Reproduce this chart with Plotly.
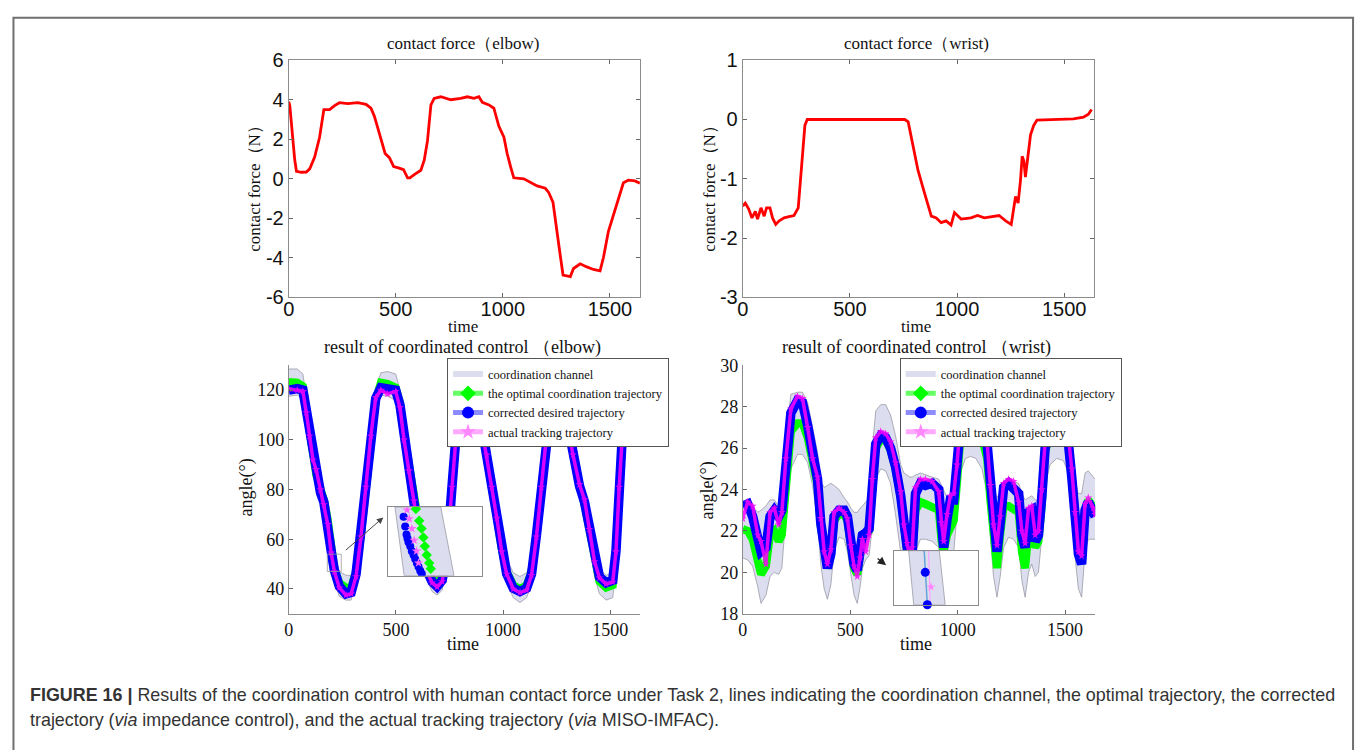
import plotly.graph_objects as go

W, H = 1362, 750


def px(x):
    return x / W


def py(y):
    return 1 - y / H


SERIF = "Liberation Serif, Times New Roman, serif"
SANS = "Liberation Sans, Arial, sans-serif"

# ---------------- contact force (elbow) ----------------
t_force_elbow = [0, 5, 28, 36, 59, 82, 98, 121, 144, 164, 191, 214, 237, 276, 322, 361, 384, 400,
                 415, 431, 450, 470, 490, 516, 536, 555, 566, 586, 617, 633, 648, 664, 679, 710,
                 757, 803, 834, 865, 888, 904, 935, 958, 981, 1005, 1020, 1036, 1051, 1098, 1129,
                 1160, 1198, 1214, 1234, 1250, 1265, 1281, 1315, 1330, 1361, 1392, 1423, 1454,
                 1470, 1493, 1516, 1540, 1563, 1586, 1617, 1640]
force_elbow = [3.9, 3.7, 0.95, 0.38, 0.33, 0.34, 0.5, 1.1, 2.1, 3.5, 3.5, 3.7, 3.85, 3.8, 3.85,
               3.77, 3.57, 3.16, 2.6, 2.0, 1.28, 1.07, 0.62, 0.54, 0.46, 0.05, 0.05, 0.21, 0.43,
               0.95, 1.93, 3.74, 4.07, 4.15, 4.0, 4.07, 4.15, 4.07, 4.15, 3.87, 3.74, 3.57, 2.67,
               2.1, 1.28, 0.62, 0.05, 0.0, -0.2, -0.36, -0.48, -0.69, -1.18, -2.33, -3.64, -4.87,
               -4.95, -4.54, -4.3, -4.46, -4.59, -4.66, -3.97, -2.66, -1.84, -1.1, -0.2, -0.07,
               -0.11, -0.23]

# ---------------- contact force (wrist) ----------------
t_force_wrist = [0, 12, 28, 43, 59, 69, 85, 100, 111, 127, 139, 154, 170, 193, 216, 239, 259, 270,
                 282, 290, 301, 756, 772, 795, 818, 849, 880, 903, 926, 949, 972, 988, 1019, 1065,
                 1096, 1127, 1157, 1196, 1227, 1253, 1265, 1273, 1285, 1296, 1304, 1312, 1319,
                 1330, 1343, 1358, 1373, 1543, 1590, 1613, 1628]
force_wrist = [-1.46, -1.41, -1.51, -1.66, -1.55, -1.68, -1.49, -1.63, -1.49, -1.49, -1.66, -1.77,
               -1.71, -1.66, -1.64, -1.62, -1.49, -1.03, -0.54, -0.1, 0, 0, -0.04, -0.48, -0.86,
               -1.25, -1.63, -1.66, -1.74, -1.71, -1.78, -1.57, -1.68, -1.66, -1.62, -1.66, -1.64,
               -1.62, -1.71, -1.77, -1.49, -1.30, -1.41, -1.03, -0.62, -0.7, -0.97, -0.59, -0.26,
               -0.1, -0.01, 0.01, 0.04, 0.09, 0.17]

# ---------------- coordinated control (elbow) ----------------
t_elbow = [0, 40, 66, 82, 97, 113, 128, 148, 164, 182, 198, 213, 236, 267, 291, 314, 337, 360,
           383, 406, 430, 461, 499, 519, 538, 561, 584, 607, 638, 669, 692, 716, 739, 762, 785,
           810, 840, 870, 901, 924, 947, 971, 994, 1017, 1048, 1079, 1110, 1133, 1156, 1179, 1202,
           1225, 1255, 1280, 1303, 1326, 1357, 1380, 1403, 1427, 1450, 1481, 1512, 1527, 1542,
           1558, 1575, 1600]
channel_upper_elbow = [128.5, 128.5, 126.5, 117, 108, 99, 91, 85, 81, 73, 61, 53, 47, 45.5, 45.5,
                       52, 67, 86, 105, 121, 127, 127.5, 126.5, 120, 107, 94, 81, 68, 55, 49, 47.5,
                       49.5, 61, 86, 111, 123, 126, 126, 111, 100, 87, 74, 61, 52, 46.5, 45, 46.5,
                       52, 67, 86, 106, 120, 126, 123, 111, 100, 87, 79, 68, 55, 48, 45.5, 46.5,
                       60, 86, 108.7, 123, 126]
channel_lower_elbow = [117.5, 118, 116.5, 107, 98, 89, 81, 75, 71, 63, 51, 43, 37, 35.5, 35.5, 42,
                       57, 76, 95, 111, 118, 117.5, 116, 110, 97, 84, 71, 58, 45, 39, 37.5, 39.5,
                       51, 76, 101, 113, 116, 116, 101, 90, 77, 64, 51, 42, 36.5, 34.5, 36.5, 42,
                       57, 76, 96, 110, 116, 113, 101, 90, 77, 69, 58, 45, 38, 35.5, 36.5, 50, 76,
                       98.7, 113, 116]
optimal_elbow = [123.3, 123, 121.5, 112, 103, 94, 86, 80, 76, 68, 56, 48, 42.5, 40.5, 40.5, 47, 62,
                 81, 100, 116, 123, 122.5, 121, 115, 102, 89, 76, 63, 50, 44, 42.5, 44.5, 56, 81,
                 106, 118, 121, 121, 106, 95, 82, 69, 56, 47, 41.5, 40, 41.5, 47, 62, 81, 101, 115,
                 121, 118, 106, 95, 82, 74, 63, 50, 43, 40.5, 41.5, 55, 81, 103.7, 118, 121]
corrected_elbow = [120, 120.6, 120, 111.5, 102.4, 93.2, 85.4, 78.8, 74.9, 67, 55.3, 47.5, 41, 38,
                   38.6, 46, 61.8, 81.4, 101, 116.7, 121, 120.6, 120, 114, 101, 88, 75, 61.8, 48.8,
                   42.9, 41, 43.5, 55.3, 81.4, 106.3, 118, 121, 121, 105.6, 94.5, 81.4, 68.4, 55.3,
                   46.1, 40.3, 39, 40.3, 46, 61.8, 81.4, 101, 115, 121, 118, 105.6, 94.5, 81.4, 75,
                   64.4, 51.4, 44.8, 42.5, 43.5, 55.3, 81.4, 103.7, 118, 121]
actual_elbow = [120.5, 120, 119.5, 111, 101.5, 92, 88, 80, 74, 66, 54.5, 47, 40.5, 37.5, 38, 45, 61,
                81, 101.5, 117, 120, 118.5, 119.5, 113, 100, 87.5, 75.5, 61, 48, 42.5, 40.8, 43, 55,
                81, 106, 118, 120.5, 120.5, 105, 94, 81, 68.5, 55, 46, 40, 38.5, 39.5, 45.5, 61, 81,
                101, 115, 120.5, 117.5, 105, 94, 82, 76, 64, 51, 44.5, 42, 42.8, 55, 81, 103.5,
                118, 120.5]

# ---------------- coordinated control (wrist) ----------------
t_wrist = [0, 23, 46, 70, 85, 108, 127, 147, 167, 182, 201, 224, 255, 278, 302, 325, 348, 363, 379,
           394, 410, 425, 448, 472, 487, 503, 518, 533, 546, 557, 572, 588, 603, 619, 642, 665, 688,
           711, 735, 750, 765, 778, 789, 804, 827, 850, 881, 912, 925, 935, 951, 966, 982, 997,
           1013, 1036, 1060, 1085, 1113, 1137, 1152, 1167, 1183, 1198, 1214, 1237, 1260, 1284,
           1299, 1314, 1330, 1345, 1361, 1376, 1392, 1407, 1430, 1461, 1492, 1515, 1531, 1546,
           1562, 1577, 1593, 1608, 1631, 1640]
channel_upper_wrist = [23.4, 23.5, 23.2, 22.9, 23.0, 23.2, 23.5, 23.5, 23.2, 23.6, 26.5, 28.6, 28.7,
                       28.7, 28.2, 27.0, 25.8, 24.4, 24.1, 24.2, 24.3, 24.2, 24.0, 23.6, 23.4, 23.1,
                       22.9, 22.9, 23.1, 23.2, 23.4, 23.6, 26.0, 27.8, 28.1, 28.1, 27.6, 26.6, 25.2,
                       24.8, 24.7, 24.6, 24.6, 24.7, 24.8, 24.7, 24.6, 24.5, 24.2, 23.9, 23.6, 23.5,
                       23.8, 25.8, 27.8, 28.4, 28.5, 28.5, 28.1, 27.0, 25.4, 24.0, 23.6, 23.9, 24.2,
                       24.4, 24.4, 24.3, 23.8, 23.5, 23.6, 23.7, 23.5, 23.4, 24.5, 26.8, 27.5, 27.8,
                       27.7, 27.2, 26.0, 24.4, 23.8, 23.8, 24.8, 24.9, 24.6, 24.5]
channel_lower_wrist = [20.7, 20.6, 20.3, 19.3, 18.5, 18.9, 19.8, 20.0, 19.9, 20.2, 22.8, 25.0, 25.7,
                       25.7, 25.3, 24.2, 22.5, 20.4, 19.2, 18.7, 19.4, 21.0, 21.7, 21.6, 21.0, 19.8,
                       18.9, 18.5, 19.3, 20.2, 20.6, 20.8, 22.3, 24.5, 25.0, 24.9, 24.3, 22.8, 21.0,
                       19.8, 19.0, 18.6, 19.0, 21.0, 21.6, 21.6, 21.5, 21.2, 20.0, 19.5, 20.2, 20.8,
                       21.0, 22.8, 24.8, 25.5, 25.6, 25.5, 25.0, 23.8, 21.8, 19.8, 18.8, 19.8, 21.2,
                       21.7, 21.6, 21.2, 19.6, 18.8, 20.0, 20.4, 19.8, 20.0, 21.8, 24.2, 25.2, 25.5,
                       25.4, 24.8, 22.8, 20.8, 19.2, 18.8, 21.0, 21.6, 21.6, 21.6]
optimal_wrist = [22.1, 22.0, 21.6, 20.6, 19.9, 20.3, 21.8, 22.0, 21.5, 21.8, 24.5, 26.8, 27.2, 27.2,
                 26.5, 25.3, 24.2, 22.2, 20.8, 20.2, 20.8, 22.5, 22.8, 22.8, 22.5, 21.3, 20.2, 19.9,
                 21.0, 21.6, 21.8, 22.0, 24.0, 26.0, 26.4, 26.4, 25.9, 25.0, 23.6, 22.0, 21.0, 20.4,
                 20.8, 23.0, 23.4, 23.3, 23.2, 23.0, 21.5, 21.0, 21.8, 22.2, 22.5, 24.3, 26.5, 26.8,
                 26.9, 26.9, 26.5, 25.5, 23.5, 21.5, 20.2, 21.8, 23.2, 23.2, 23.1, 22.9, 21.0, 20.2,
                 22.0, 22.2, 21.2, 21.5, 23.3, 25.8, 26.7, 27.0, 26.9, 26.2, 24.5, 22.5, 21.0, 20.5,
                 23.0, 23.5, 23.2, 23.0]
corrected_wrist = [23.2, 23.3, 22.7, 21.5, 21.0, 21.2, 22.7, 23.0, 22.7, 23.0, 25.2, 27.7, 28.3,
                   28.2, 27.1, 25.7, 24.5, 22.4, 20.9, 20.2, 20.9, 22.7, 23.0, 23.0, 22.7, 21.5,
                   20.4, 20.1, 21.2, 21.8, 21.9, 22.1, 24.1, 26.2, 26.6, 26.5, 26.0, 25.1, 23.7,
                   22.1, 21.2, 20.6, 21.0, 23.8, 24.3, 24.2, 24.3, 24.0, 22.1, 21.2, 22.6, 23.5,
                   23.5, 24.9, 27.1, 28.0, 28.5, 28.3, 27.6, 26.2, 24.1, 22.1, 21.0, 22.4, 24.1,
                   24.3, 24.1, 23.8, 21.8, 21.2, 22.9, 23.0, 21.5, 21.8, 23.7, 26.0, 26.8, 27.0,
                   26.9, 26.3, 24.6, 22.6, 20.9, 20.4, 23.0, 23.4, 22.9, 22.7]
actual_wrist = [22.6, 23.4, 23.2, 21.8, 21.5, 20.4, 22.9, 23.1, 22.3, 22.9, 25.5, 27.9, 28.5, 28.4,
                27.0, 25.5, 24.6, 22.6, 21.0, 20.4, 21.1, 22.9, 23.1, 22.9, 22.6, 21.3, 20.3, 19.8,
                20.7, 21.6, 21.0, 21.8, 24.5, 26.5, 26.8, 26.7, 26.3, 25.3, 23.9, 22.3, 21.4, 20.7,
                21.2, 24.1, 24.5, 24.5, 24.4, 23.9, 22.4, 21.5, 22.8, 23.7, 23.8, 25.2, 27.3, 28.1,
                28.5, 28.4, 27.8, 26.3, 24.2, 22.3, 21.3, 22.7, 24.3, 24.5, 24.4, 23.4, 22.0, 21.4,
                23.1, 23.2, 21.8, 22.0, 24.0, 26.3, 27.0, 27.1, 27.0, 26.6, 25.0, 22.9, 21.0, 20.8,
                23.3, 23.6, 23.1, 22.8]

# ---------------- magnified views ----------------
zoom_elbow_t = [180, 245]
zoom_elbow_a = [47, 54]
zoom_elbow_channel_t = [184.6, 216.3, 225.5, 191.0, 184.6]
zoom_elbow_channel_a = [54, 54, 47, 47, 54]
zoom_elbow_corrected_t = [190.6, 191.7, 192.6, 193.3, 194.0, 195.2, 196.3, 197.5, 198.6, 199.8,
                          200.9, 202.1, 203.2]
zoom_elbow_corrected_a = [53.0, 52.0, 51.2, 50.8, 50.4, 50.0, 49.5, 49.1, 48.7, 48.3, 47.9, 47.5,
                          47.2]
zoom_elbow_optimal_t = [199.1, 201.4, 203.0, 204.3, 205.3, 206.6, 208.3, 209.4]
zoom_elbow_optimal_a = [53.8, 52.6, 51.8, 50.9, 50.0, 49.1, 48.3, 47.7]
zoom_elbow_actual_t = [192.9, 194.5, 196.3, 197.9, 199.5, 200.9]
zoom_elbow_actual_a = [53.7, 52.8, 51.8, 50.6, 49.5, 48.3]

zoom_wrist_t = [700, 740]
zoom_wrist_a = [19.0, 21.0]
zoom_wrist_channel_t = [707.1, 721.7, 724.5, 709.5, 707.1]
zoom_wrist_channel_a = [21.0, 21.0, 19.0, 19.0, 21.0]
zoom_wrist_corrected_line_t = [714.5, 716.0]
zoom_wrist_corrected_line_a = [21.0, 19.0]
zoom_wrist_corrected_t = [715.0, 716.0]
zoom_wrist_corrected_a = [20.2, 19.0]
zoom_wrist_actual_line_t = [716.6, 717.4]
zoom_wrist_actual_line_a = [21.0, 19.0]
zoom_wrist_actual_t = [717.7]
zoom_wrist_actual_a = [19.66]

X_TICKS = [0, 500, 1000, 1500]
X_RANGE = [0, 1640]
FORCE_ELBOW_TICKS = [-6, -4, -2, 0, 2, 4, 6]
FORCE_ELBOW_LABELS = ["-6", "-4", "-2", "0", "2", "4", "6"]
FORCE_WRIST_TICKS = [-3, -2, -1, 0, 1]
FORCE_WRIST_LABELS = ["-3", "-2", "-1", "0", "1"]
ANGLE_ELBOW_TICKS = [40, 60, 80, 100, 120]
ANGLE_WRIST_TICKS = [18, 20, 22, 24, 26, 28, 30]

GREEN = "#00ff00"
BLUE = "#0000ff"
MAGENTA = "#ff00ff"
CHANNEL_FILL = "#dcdef0"
CHANNEL_LINE = "#9a9aa6"

fig = go.Figure()

# contact forces
fig.add_trace(go.Scatter(x=t_force_elbow, y=force_elbow, mode="lines",
                         line=dict(color="#ff0000", width=2.8), xaxis="x", yaxis="y",
                         showlegend=False))
fig.add_trace(go.Scatter(x=t_force_wrist, y=force_wrist, mode="lines",
                         line=dict(color="#ff0000", width=2.8), xaxis="x2", yaxis="y2",
                         showlegend=False))


def add_angle_panel(xa, ya, t, lo, up, opt, cor, act):
    fig.add_trace(go.Scatter(x=t, y=lo, mode="lines", line=dict(color=CHANNEL_LINE, width=0.8),
                             xaxis=xa, yaxis=ya, showlegend=False))
    fig.add_trace(go.Scatter(x=t, y=up, mode="lines", line=dict(color=CHANNEL_LINE, width=0.8),
                             fill="tonexty", fillcolor=CHANNEL_FILL, xaxis=xa, yaxis=ya,
                             showlegend=False))
    fig.add_trace(go.Scatter(x=t, y=opt, mode="lines", line=dict(color=GREEN, width=8),
                             xaxis=xa, yaxis=ya, showlegend=False))
    fig.add_trace(go.Scatter(x=t, y=cor, mode="lines", line=dict(color=BLUE, width=9.5),
                             xaxis=xa, yaxis=ya, showlegend=False))
    fig.add_trace(go.Scatter(x=t, y=act, mode="lines+markers",
                             line=dict(color=MAGENTA, width=3.5),
                             marker=dict(symbol="star", size=6, color=MAGENTA),
                             xaxis=xa, yaxis=ya, showlegend=False, opacity=0.85))


add_angle_panel("x3", "y3", t_elbow, channel_lower_elbow, channel_upper_elbow, optimal_elbow,
                corrected_elbow, actual_elbow)
add_angle_panel("x4", "y4", t_wrist, channel_lower_wrist, channel_upper_wrist, optimal_wrist,
                corrected_wrist, actual_wrist)

# legend entries (one legend per angle panel)
LEGEND_NAMES = ["coordination channel", "the optimal coordination trajectory",
                "corrected desired trajectory", "actual tracking trajectory"]
for lg, xa, ya in (("legend", "x3", "y3"), ("legend2", "x4", "y4")):
    fig.add_trace(go.Scatter(x=[None], y=[None], mode="none", name=LEGEND_NAMES[0],
                             fill="toself", fillcolor=CHANNEL_FILL, legend=lg,
                             xaxis=xa, yaxis=ya))
    fig.add_trace(go.Scatter(x=[None], y=[None], mode="lines+markers", name=LEGEND_NAMES[1],
                             line=dict(color="#66ff66", width=0.8),
                             marker=dict(symbol="diamond", size=7, color=GREEN),
                             legend=lg, xaxis=xa, yaxis=ya))
    fig.add_trace(go.Scatter(x=[None], y=[None], mode="lines+markers", name=LEGEND_NAMES[2],
                             line=dict(color="#8c8cff", width=0.8),
                             marker=dict(symbol="circle", size=9, color=BLUE),
                             legend=lg, xaxis=xa, yaxis=ya))
    fig.add_trace(go.Scatter(x=[None], y=[None], mode="lines+markers", name=LEGEND_NAMES[3],
                             line=dict(color="#ffaaff", width=0.8),
                             marker=dict(symbol="star", size=7, color="#ff88ff"),
                             legend=lg, xaxis=xa, yaxis=ya))

# magnified view, elbow
fig.add_trace(go.Scatter(x=zoom_elbow_channel_t, y=zoom_elbow_channel_a, mode="lines",
                         fill="toself", fillcolor=CHANNEL_FILL,
                         line=dict(color=CHANNEL_LINE, width=0.8), xaxis="x5", yaxis="y5",
                         showlegend=False))
fig.add_trace(go.Scatter(x=zoom_elbow_optimal_t, y=zoom_elbow_optimal_a, mode="markers",
                         marker=dict(symbol="diamond", size=8, color=GREEN),
                         xaxis="x5", yaxis="y5", showlegend=False))
fig.add_trace(go.Scatter(x=zoom_elbow_corrected_t, y=zoom_elbow_corrected_a, mode="markers",
                         marker=dict(symbol="circle", size=8, color=BLUE),
                         xaxis="x5", yaxis="y5", showlegend=False))
fig.add_trace(go.Scatter(x=zoom_elbow_actual_t, y=zoom_elbow_actual_a, mode="markers",
                         marker=dict(symbol="star", size=7, color="#ff66ff"),
                         xaxis="x5", yaxis="y5", showlegend=False))

# magnified view, wrist
fig.add_trace(go.Scatter(x=zoom_wrist_channel_t, y=zoom_wrist_channel_a, mode="lines",
                         fill="toself", fillcolor=CHANNEL_FILL,
                         line=dict(color=CHANNEL_LINE, width=0.8), xaxis="x6", yaxis="y6",
                         showlegend=False))
fig.add_trace(go.Scatter(x=zoom_wrist_corrected_line_t, y=zoom_wrist_corrected_line_a,
                         mode="lines", line=dict(color="#66a3d9", width=1.5),
                         xaxis="x6", yaxis="y6", showlegend=False))
fig.add_trace(go.Scatter(x=zoom_wrist_actual_line_t, y=zoom_wrist_actual_line_a,
                         mode="lines", line=dict(color="#ff99ff", width=1),
                         xaxis="x6", yaxis="y6", showlegend=False))
fig.add_trace(go.Scatter(x=zoom_wrist_corrected_t, y=zoom_wrist_corrected_a, mode="markers",
                         marker=dict(symbol="circle", size=9, color=BLUE), cliponaxis=False,
                         xaxis="x6", yaxis="y6", showlegend=False))
fig.add_trace(go.Scatter(x=zoom_wrist_actual_t, y=zoom_wrist_actual_a, mode="markers",
                         marker=dict(symbol="star", size=7, color="#ff88ff"),
                         xaxis="x6", yaxis="y6", showlegend=False))

# ---------------- axes ----------------
top_common = dict(showline=True, linecolor="#8c8c8c", linewidth=1, mirror="ticks",
                  ticks="inside", ticklen=4, tickcolor="#666", showgrid=False, zeroline=False,
                  tickfont=dict(family=SANS, size=20, color="#111"))
bottom_common = dict(showline=True, linecolor="#8c8c8c", linewidth=1, mirror=False,
                     ticks="inside", ticklen=4, tickcolor="#666", showgrid=False, zeroline=False,
                     tickfont=dict(family=SERIF, size=18, color="#111"))
inset_common = dict(showline=True, linecolor="#8c8c8c", linewidth=1, mirror=True,
                    ticks="", showticklabels=False, showgrid=False, zeroline=False)

fig.update_layout(
    xaxis=dict(domain=[px(284), px(636.7)], range=X_RANGE, tickvals=X_TICKS, anchor="y",
               ticklabelstandoff=-6, **top_common),
    yaxis=dict(domain=[py(295), py(50.7)], range=[-6, 6], tickvals=FORCE_ELBOW_TICKS,
               ticktext=FORCE_ELBOW_LABELS, anchor="x", **top_common),
    xaxis2=dict(domain=[px(740), px(1093)], range=X_RANGE, tickvals=X_TICKS, anchor="y2",
                ticklabelstandoff=-6, **top_common),
    yaxis2=dict(domain=[py(295), py(50.7)], range=[-3, 1], tickvals=FORCE_WRIST_TICKS,
                ticktext=FORCE_WRIST_LABELS, anchor="x2", **top_common),
    xaxis3=dict(domain=[px(284), px(637)], range=X_RANGE, tickvals=X_TICKS, anchor="y3",
                **bottom_common),
    yaxis3=dict(domain=[py(621), py(365)], range=[30, 130], tickvals=ANGLE_ELBOW_TICKS,
                anchor="x3", **bottom_common),
    xaxis4=dict(domain=[px(740), px(1094)], range=X_RANGE, tickvals=X_TICKS, anchor="y4",
                **bottom_common),
    yaxis4=dict(domain=[py(621), py(365)], range=[18, 30], tickvals=ANGLE_WRIST_TICKS,
                anchor="x4", **bottom_common),
    xaxis5=dict(domain=[px(384), px(478.3)], range=zoom_elbow_t, anchor="y5", **inset_common),
    yaxis5=dict(domain=[py(581.7), py(511)], range=zoom_elbow_a, anchor="x5", **inset_common),
    xaxis6=dict(domain=[px(891.7), px(976)], range=zoom_wrist_t, anchor="y6", **inset_common),
    yaxis6=dict(domain=[py(611.7), py(556)], range=zoom_wrist_a, anchor="x6", **inset_common),
)

legend_style = dict(bgcolor="white", bordercolor="#555", borderwidth=1,
                    font=dict(family=SERIF, size=12.5, color="#111"),
                    xanchor="left", yanchor="top", tracegroupgap=0, traceorder="normal",
                    itemsizing="constant")
fig.update_layout(
    legend=dict(x=px(443), y=py(358), **legend_style),
    legend2=dict(x=px(897.7), y=py(358), **legend_style),
)

# ---------------- text ----------------
ann = []


def text(x, y, s, size, family=SERIF, angle=0, xanchor="center", color="#111"):
    ann.append(dict(x=px(x), y=py(y), xref="paper", yref="paper", text=s, showarrow=False,
                    font=dict(family=family, size=size, color=color), textangle=angle,
                    xanchor=xanchor, yanchor="middle"))


text(459, 33, "contact force（elbow)", 17)
text(915, 33, "contact force（wrist)", 17)
text(250, 178, "contact force（N）", 17, angle=-90)
text(707, 178, "contact force（N）", 17, angle=-90)
text(459, 325, "time", 17)
text(914, 325, "time", 17)
text(459, 347, "result of coordinated control （elbow)", 18)
text(915, 347, "result of coordinated control （wrist)", 18)
text(242, 491, "angle(°)", 18, angle=-90)
text(705, 494, "angle(°)", 18, angle=-90)
text(459, 652, "time", 18)
text(914, 652, "time", 18)

text(22, 705, "<b>FIGURE 16 |</b> Results of the coordination control with human contact force "
     "under Task 2, lines indicating the coordination channel, the optimal trajectory, the "
     "corrected", 17.9, family=SANS, xanchor="left", color="#333")
text(22, 730, "trajectory (<i>via</i> impedance control), and the actual tracking trajectory "
     "(<i>via</i> MISO-IMFAC).", 17.9, family=SANS, xanchor="left", color="#333")

# arrows pointing to the magnified views
ann.append(dict(x=px(379), y=py(521.7), xref="paper", yref="paper", ax=-39, ay=34, text="",
                showarrow=True, arrowhead=2, arrowsize=1.3, arrowwidth=1, arrowcolor="#444"))
ann.append(dict(x=px(884), y=py(571), xref="paper", yref="paper", ax=-10, ay=-8, text="",
                showarrow=True, arrowhead=2, arrowsize=1.4, arrowwidth=1.2, arrowcolor="#222"))

fig.update_layout(annotations=ann)

shapes = [
    # outer figure frame
    dict(type="rect", xref="paper", yref="paper", x0=px(7.5), x1=px(1353), y0=py(770),
         y1=py(7), line=dict(color="#707070", width=2), fillcolor="rgba(0,0,0,0)",
         layer="below"),
    # region shown in the elbow magnified view
    dict(type="rect", xref="x3", yref="y3", x0=zoom_elbow_t[0], x1=zoom_elbow_t[1],
         y0=zoom_elbow_a[0], y1=zoom_elbow_a[1], line=dict(color="#999", width=0.8)),
]
fig.update_layout(shapes=shapes)

fig.update_layout(width=W, height=H, margin=dict(l=0, r=0, t=0, b=0),
                  paper_bgcolor="white", plot_bgcolor="white")

fig.write_html("out.html")
